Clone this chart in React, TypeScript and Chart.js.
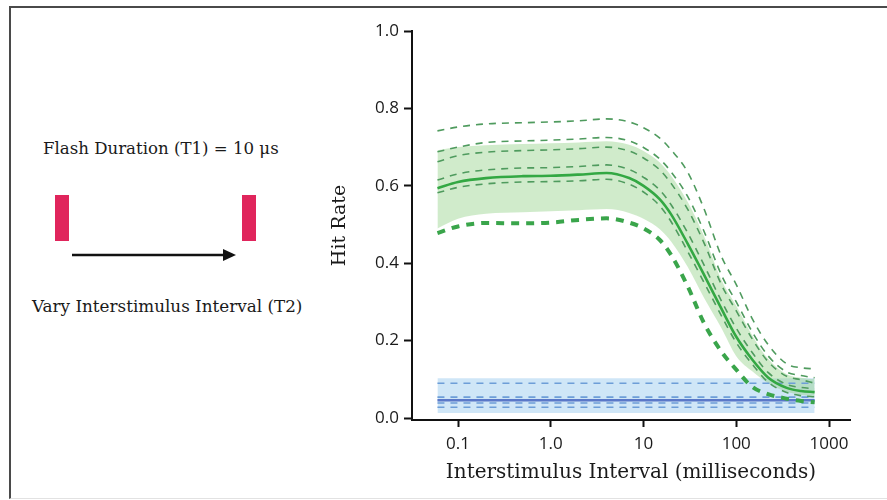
import React, { useEffect, useRef } from "react";
import { Chart, registerables } from "chart.js";

Chart.register(...registerables);

// ---- data ----
const xGreen = [0.06, 0.1, 0.2, 0.5, 1, 2, 4, 7, 10, 15, 20, 30, 45, 70, 100, 150, 220, 350, 500, 700];
const greenMean = [0.594, 0.61, 0.62, 0.625, 0.626, 0.629, 0.633, 0.62, 0.6, 0.565, 0.525, 0.45, 0.37, 0.28, 0.21, 0.15, 0.105, 0.078, 0.07, 0.067];
const greenOuter = [0.742, 0.752, 0.76, 0.763, 0.765, 0.768, 0.773, 0.765, 0.75, 0.723, 0.692, 0.635, 0.54, 0.415, 0.345, 0.255, 0.19, 0.14, 0.13, 0.127];
const greenD1 = [0.688, 0.7, 0.712, 0.716, 0.718, 0.721, 0.725, 0.716, 0.699, 0.669, 0.635, 0.572, 0.482, 0.367, 0.3, 0.221, 0.161, 0.119, 0.11, 0.104];
const greenD2 = [0.662, 0.678, 0.687, 0.691, 0.693, 0.696, 0.7, 0.69, 0.672, 0.641, 0.605, 0.539, 0.452, 0.342, 0.277, 0.203, 0.146, 0.108, 0.099, 0.09];
const greenD3 = [0.615, 0.631, 0.641, 0.646, 0.647, 0.65, 0.654, 0.642, 0.622, 0.589, 0.55, 0.478, 0.395, 0.3, 0.232, 0.168, 0.118, 0.087, 0.079, 0.076];
const greenD4 = [0.582, 0.596, 0.605, 0.61, 0.611, 0.613, 0.617, 0.604, 0.584, 0.548, 0.506, 0.43, 0.35, 0.262, 0.195, 0.138, 0.093, 0.066, 0.058, 0.055];
const greenLower = [0.478, 0.495, 0.504, 0.503, 0.505, 0.512, 0.516, 0.505, 0.49, 0.46, 0.42, 0.34, 0.245, 0.17, 0.125, 0.08, 0.062, 0.05, 0.044, 0.041];
const greenBandHigh = [0.692, 0.7, 0.705, 0.708, 0.71, 0.712, 0.715, 0.706, 0.69, 0.66, 0.625, 0.558, 0.47, 0.355, 0.29, 0.212, 0.153, 0.113, 0.104, 0.1];
const greenBandLow = [0.49, 0.515, 0.528, 0.532, 0.534, 0.537, 0.54, 0.53, 0.515, 0.488, 0.455, 0.39, 0.31, 0.23, 0.16, 0.12, 0.09, 0.068, 0.06, 0.055];

const xBlue = [0.06, 700];
const blueMean = [0.046, 0.046];
const blueUpper = [0.09, 0.09];
const blueD1 = [0.054, 0.054];
const blueD2 = [0.039, 0.039];
const blueD3 = [0.028, 0.028];
const blueBandHigh = [0.103, 0.103];
const blueBandLow = [0.013, 0.013];

const xTickValues = [0.1, 1, 10, 100, 1000];
const xTickLabels = ["0.1", "1.0", "10", "100", "1000"];
const yTickValues = [0, 0.2, 0.4, 0.6, 0.8, 1.0];
const yTickLabels = ["0.0", "0.2", "0.4", "0.6", "0.8", "1.0"];

const pts = (xs: number[], ys: number[]) => xs.map((x, i) => ({ x, y: ys[i] }));

const GREEN_DASH = "#4f9b5e";
const GREEN_MAIN = "#33a843";
const BLUE_DASH = "#6d9ed8";
const BLUE_MAIN = "#5a78c8";

export default function App() {
  const ref = useRef<HTMLCanvasElement | null>(null);

  useEffect(() => {
    document.body.style.margin = "0";
    const canvas = ref.current;
    if (!canvas) return;
    const line = (data: any, color: string, width: number, dash: number[] | null, order = 0) => ({
      data,
      borderColor: color,
      borderWidth: width,
      borderDash: dash || [],
      pointRadius: 0,
      fill: false,
      cubicInterpolationMode: "monotone",
      order,
    });
    const chart = new Chart(canvas, {
      type: "line",
      data: {
        datasets: [
          {
            data: pts(xGreen, greenBandHigh),
            borderWidth: 0,
            borderColor: "rgba(0,0,0,0)",
            backgroundColor: "rgba(150,210,140,0.45)",
            pointRadius: 0,
            fill: 1,
            cubicInterpolationMode: "monotone",
            order: 10,
          },
          {
            data: pts(xGreen, greenBandLow),
            borderWidth: 0,
            borderColor: "rgba(0,0,0,0)",
            pointRadius: 0,
            fill: false,
            cubicInterpolationMode: "monotone",
            order: 11,
          },
          {
            data: pts(xBlue, blueBandHigh),
            borderWidth: 0,
            borderColor: "rgba(0,0,0,0)",
            backgroundColor: "rgba(160,205,240,0.5)",
            pointRadius: 0,
            fill: 3,
            order: 12,
          },
          {
            data: pts(xBlue, blueBandLow),
            borderWidth: 0,
            borderColor: "rgba(0,0,0,0)",
            pointRadius: 0,
            fill: false,
            order: 13,
          },
          line(pts(xBlue, blueUpper), BLUE_DASH, 1.6, [7, 6], 2),
          line(pts(xBlue, blueD1), BLUE_DASH, 1.6, [7, 6], 2),
          line(pts(xBlue, blueD2), BLUE_DASH, 1.6, [7, 6], 2),
          line(pts(xBlue, blueD3), BLUE_DASH, 1.6, [7, 6], 2),
          line(pts(xBlue, blueMean), BLUE_MAIN, 2.5, null, 1),
          line(pts(xGreen, greenOuter), GREEN_DASH, 1.6, [7, 6]),
          line(pts(xGreen, greenD1), GREEN_DASH, 1.6, [7, 6]),
          line(pts(xGreen, greenD2), GREEN_DASH, 1.6, [7, 6]),
          line(pts(xGreen, greenD3), GREEN_DASH, 1.6, [7, 6]),
          line(pts(xGreen, greenD4), GREEN_DASH, 1.6, [7, 6]),
          line(pts(xGreen, greenLower), "#3aa54b", 4, [8, 7]),
          line(pts(xGreen, greenMean), GREEN_MAIN, 2.6, null),
        ] as any,
      },
      options: {
        responsive: false,
        animation: false,
        events: [],
        layout: { padding: { top: 31, right: 37, left: 0, bottom: 0 } },
        plugins: { legend: { display: false }, tooltip: { enabled: false } },
        scales: {
          x: {
            type: "logarithmic",
            min: 0.0319,
            max: 1684,
            afterBuildTicks: (s: any) => {
              s.ticks = xTickValues.map((v) => ({ value: v }));
            },
            afterFit: (s: any) => {
              s.height = 80;
            },
            ticks: {
              autoSkip: false,
              maxRotation: 0,
              padding: 7,
              color: "#1a1a1a",
              font: { family: "'Open Sans'", size: 17 },
              callback: (v: any) => {
                const i = xTickValues.findIndex((t) => Math.abs(t - v) / t < 1e-6);
                return i >= 0 ? xTickLabels[i] : "";
              },
            },
            grid: { drawOnChartArea: false, drawTicks: true, tickLength: 7, tickColor: "#111", tickWidth: 2 },
            border: { display: true, color: "#111", width: 2 },
            title: {
              display: true,
              text: "Interstimulus Interval (milliseconds)",
              color: "#1a1a1a",
              font: { family: "'DejaVu Serif'", size: 20 },
              padding: { top: 0, bottom: 15 },
            },
          },
          y: {
            type: "linear",
            min: -0.005,
            max: 1.0,
            afterBuildTicks: (s: any) => {
              s.ticks = yTickValues.map((v) => ({ value: v }));
            },
            afterFit: (s: any) => {
              s.width = 112;
            },
            ticks: {
              padding: 5,
              color: "#1a1a1a",
              font: { family: "'Open Sans'", size: 17 },
              callback: (v: any) => {
                const i = yTickValues.findIndex((t) => Math.abs(t - v) < 1e-6);
                return i >= 0 ? yTickLabels[i] : "";
              },
            },
            grid: { drawOnChartArea: false, drawTicks: true, tickLength: 8, tickColor: "#111", tickWidth: 2 },
            border: { display: true, color: "#111", width: 2 },
            title: {
              display: true,
              text: "Hit Rate",
              color: "#1a1a1a",
              font: { family: "'DejaVu Serif'", size: 19 },
              padding: { top: 29, bottom: 0 },
            },
          },
        },
      } as any,
    });
    return () => chart.destroy();
  }, []);

  const textStyle: React.CSSProperties = {
    position: "absolute",
    fontFamily: "'DejaVu Serif', serif",
    fontSize: 16.6,
    color: "#1a1a1a",
    whiteSpace: "nowrap",
    lineHeight: "20px",
  };

  return (
    <div style={{ position: "relative", width: 887, height: 500, overflow: "hidden", background: "#fff" }}>
      <div
        style={{
          position: "absolute",
          left: 9,
          top: 6,
          width: 900,
          height: 490,
          borderLeft: "2px solid #4a4a4a",
          borderTop: "2px solid #4a4a4a",
          borderBottom: "1px solid #e2e2e2",
        }}
      />
      <div style={{ ...textStyle, left: 43, top: 139 }}>Flash Duration (T1) = 10 μs</div>
      <div style={{ ...textStyle, fontSize: 16.8, left: 32, top: 296 }}>Vary Interstimulus Interval (T2)</div>
      <svg style={{ position: "absolute", left: 0, top: 0 }} width={330} height={500}>
        <rect x={55} y={195} width={14} height={46} fill="#e0255c" />
        <rect x={242} y={195} width={14} height={46} fill="#e0255c" />
        <line x1={72} y1={255} x2={226} y2={255} stroke="#111" strokeWidth={2.5} />
        <polygon points="236,255 223,249 223,261" fill="#111" />
      </svg>
      <canvas
        ref={ref}
        width={587}
        height={500}
        style={{ position: "absolute", left: 300, top: 0, width: 587, height: 500 }}
      />
    </div>
  );
}
